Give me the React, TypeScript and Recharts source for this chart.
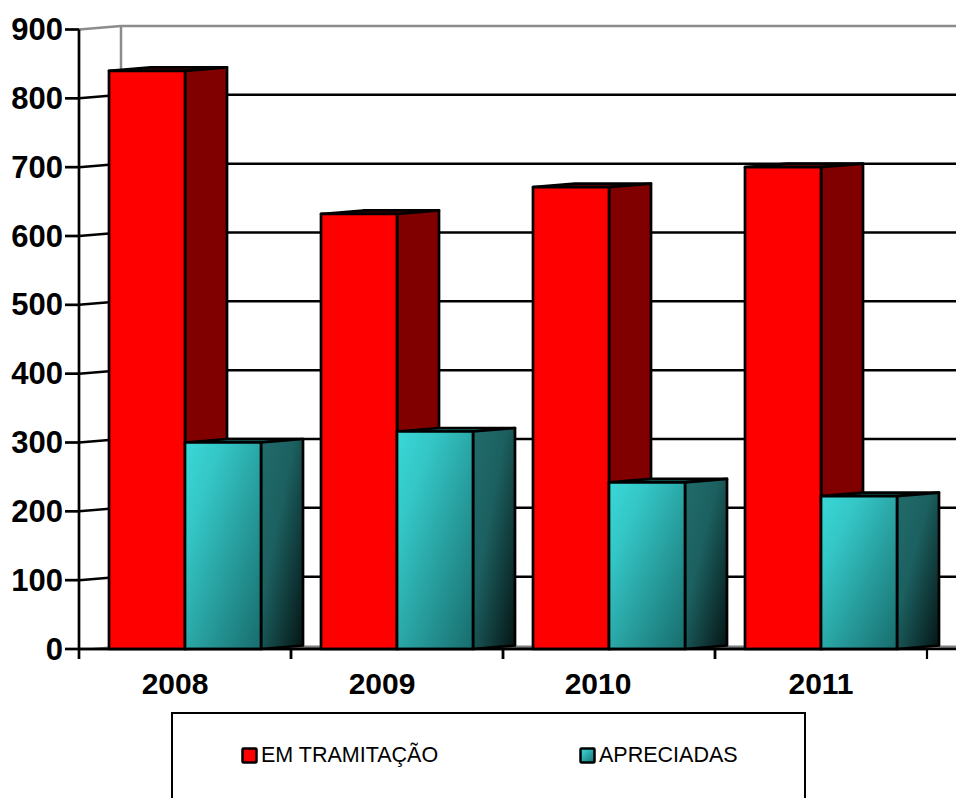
import React from 'react';
import { Bar, BarChart, CartesianGrid, Legend, XAxis, YAxis } from 'recharts';

const years = ['2008', '2009', '2010', '2011'];
const emTramitacao = [840, 632, 671, 700];
const apreciadas = [300, 316, 242, 222];
const yTicks = [0, 100, 200, 300, 400, 500, 600, 700, 800, 900];

const data = years.map((year, i) => ({
  year,
  emTramitacao: emTramitacao[i],
  apreciadas: apreciadas[i],
}));

const WIDTH = 956;
const HEIGHT = 798;
const PLOT_LEFT = 79;
const PLOT_TOP = 29.5;
const PLOT_BOTTOM = 649;
const PLOT_RIGHT = 927;
const BAND = (PLOT_RIGHT - PLOT_LEFT) / years.length;
const DEPTH_X = 42;
const DEPTH_Y = 3.5;
const STROKE = 2.7;
const FONT = '"Liberation Sans", Arial, sans-serif';
// the year labels do not sit quite centred under their band in the original
const labelNudge = [-10, -15, -11, 0];

function Box3D(props: any) {
  const { x, y, width, height, fill, sideFill, topFill } = props;
  const right = x + width;
  const bottom = y + height;
  const line = { stroke: '#000', strokeWidth: STROKE, strokeLinejoin: 'round' as const };
  return (
    <g>
      <path
        d={`M${x},${y}L${x + DEPTH_X},${y - DEPTH_Y}L${right + DEPTH_X},${y - DEPTH_Y}L${right},${y}Z`}
        fill={topFill}
        {...line}
      />
      <path
        d={`M${right},${y}L${right + DEPTH_X},${y - DEPTH_Y}L${right + DEPTH_X},${bottom - DEPTH_Y}L${right},${bottom}Z`}
        fill={sideFill}
        {...line}
      />
      <rect x={x} y={y} width={width} height={height} fill={fill} {...line} />
    </g>
  );
}

function GridLine(props: any) {
  const { x1, y1, index } = props;
  const backX = x1 + DEPTH_X;
  const backY = y1 - DEPTH_Y;
  const isTop = y1 <= PLOT_TOP + 0.5;
  const isFloor = y1 >= PLOT_BOTTOM - 0.5;
  if (isFloor) {
    return (
      <g key={index}>
        <path d={`M${x1},${y1}L${backX},${backY}L${WIDTH},${backY}L${WIDTH},${y1}Z`} fill="#808080" />
        <line x1={x1} y1={y1} x2={WIDTH} y2={y1} stroke="#000" strokeWidth={STROKE} />
      </g>
    );
  }
  const color = isTop ? '#8c8c8c' : '#000';
  return (
    <g key={index}>
      <path d={`M${x1},${y1}L${backX},${backY}L${WIDTH},${backY}`} fill="none" stroke={color} strokeWidth={2.5} />
      {isTop && (
        <line x1={backX} y1={backY} x2={backX} y2={PLOT_BOTTOM} stroke={color} strokeWidth={2.5} />
      )}
    </g>
  );
}

function YearTick(props: any) {
  const { x, y, payload, index } = props;
  return (
    <g>
      <line x1={x - BAND / 2} y1={y} x2={x - BAND / 2} y2={y + 10} stroke="#000" strokeWidth={STROKE} />
      <line x1={x + BAND / 2} y1={y} x2={x + BAND / 2} y2={y + 10} stroke="#000" strokeWidth={2.2} />
      <text x={x + labelNudge[index]} y={y + 45} textAnchor="middle" fontFamily={FONT} fontSize={30} fontWeight="bold" fill="#000">
        {payload.value}
      </text>
    </g>
  );
}

function ValueTick(props: any) {
  const { x, y, payload } = props;
  return (
    <text x={x} y={y + 10.5} textAnchor="end" fontFamily={FONT} fontSize={31} fontWeight="bold" fill="#000">
      {payload.value}
    </text>
  );
}

function ChartLegend({ payload }: any) {
  const slots = [68, 406];
  return (
    <div
      style={{
        position: 'relative',
        width: 635,
        height: 110,
        border: '2px solid #000',
        boxSizing: 'border-box',
        background: '#fff',
      }}
    >
      {(payload ?? []).map((entry: any, i: number) => (
        <div
          key={entry.value}
          style={{
            position: 'absolute',
            left: slots[i],
            top: 29,
            display: 'flex',
            alignItems: 'center',
            fontFamily: FONT,
            fontSize: 21.5,
            color: '#000',
            lineHeight: '24px',
            whiteSpace: 'nowrap',
          }}
        >
          <svg width={17} height={17} style={{ marginRight: 3 }}>
            <rect x={1.5} y={1.5} width={14} height={14} rx={1} fill={entry.color} stroke="#000" strokeWidth={2.5} />
          </svg>
          {entry.value}
        </div>
      ))}
    </div>
  );
}

export default function App() {
  return (
    <div style={{ position: 'absolute', left: 0, top: 0, width: WIDTH, height: HEIGHT, overflow: 'hidden', background: '#fff' }}>
      <BarChart
        width={WIDTH}
        height={HEIGHT}
        data={data}
        margin={{ top: PLOT_TOP, right: WIDTH - PLOT_RIGHT, bottom: 0, left: 0 }}
        barCategoryGap={30}
        barGap={0}
      >
        <defs>
          <linearGradient id="tealFace" x1="0" y1="0" x2="1" y2="1">
            <stop offset="0" stopColor="#3ad8d8" />
            <stop offset="0.25" stopColor="#34c6c6" />
            <stop offset="1" stopColor="#186c6c" />
          </linearGradient>
          <linearGradient id="tealSide" x1="0" y1="0" x2="1" y2="1">
            <stop offset="0" stopColor="#226c6c" />
            <stop offset="0.4" stopColor="#1c6060" />
            <stop offset="1" stopColor="#051414" />
          </linearGradient>
        </defs>
        <CartesianGrid vertical={false} horizontal={GridLine as any} />
        <XAxis
          dataKey="year"
          height={HEIGHT - PLOT_BOTTOM}
          interval={0}
          tick={YearTick as any}
          tickLine={false}
          tickSize={0}
          tickMargin={0}
          axisLine={{ stroke: '#000', strokeWidth: STROKE }}
        />
        <YAxis
          type="number"
          domain={[0, 900]}
          ticks={yTicks}
          interval={0}
          width={PLOT_LEFT}
          tick={ValueTick as any}
          tickSize={14}
          tickMargin={2}
          tickLine={{ stroke: '#000', strokeWidth: STROKE }}
          axisLine={{ stroke: '#000', strokeWidth: STROKE }}
        />
        <Legend
          layout="horizontal"
          verticalAlign="middle"
          align="center"
          itemSorter={null}
          wrapperStyle={{ left: 171, top: 712, width: 635 }}
          content={ChartLegend as any}
        />
        <Bar
          dataKey="emTramitacao"
          name="EM TRAMITAÇÃO"
          fill="#ff0000"
          barSize={76}
          isAnimationActive={false}
          shape={(p: any) => <Box3D {...p} fill="#ff0000" sideFill="#800000" topFill="#800000" />}
        />
        <Bar
          dataKey="apreciadas"
          name="APRECIADAS"
          fill="url(#tealFace)"
          barSize={76}
          isAnimationActive={false}
          shape={(p: any) => <Box3D {...p} fill="url(#tealFace)" sideFill="url(#tealSide)" topFill="#1c6060" />}
        />
      </BarChart>
    </div>
  );
}
